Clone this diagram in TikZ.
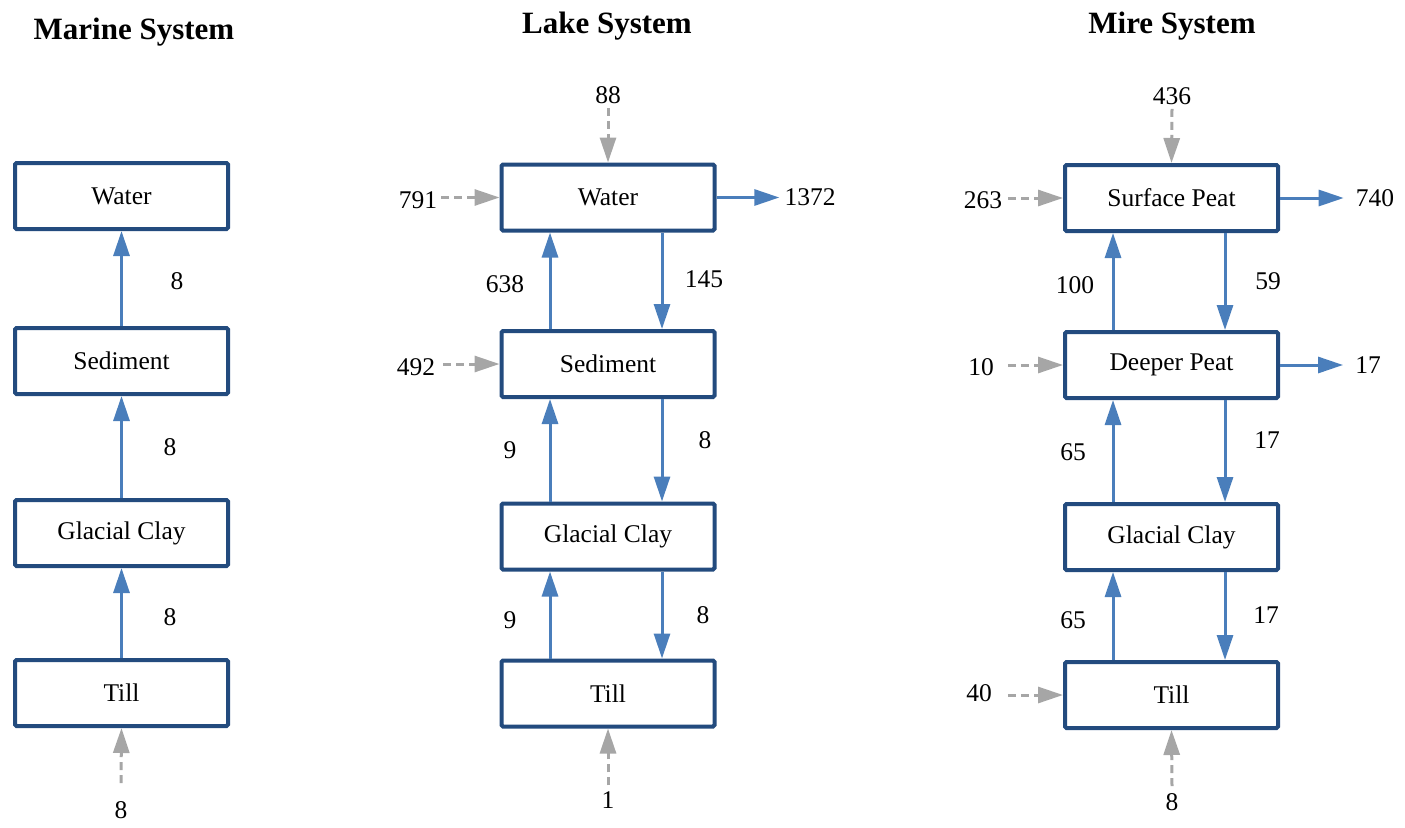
\documentclass[tikz,border=0pt]{standalone}
\usepackage{fontspec}
\setmainfont{Liberation Serif}
\usetikzlibrary{arrows.meta}
\definecolor{boxblue}{HTML}{234B7E}
\definecolor{flowblue}{HTML}{4A7EBB}
\definecolor{ingray}{HTML}{A6A6A6}
\tikzset{
  compbox/.style={draw=boxblue, line width=4pt, rounded corners=1.5pt, fill=white,
    minimum width=213pt, minimum height=66pt, inner sep=0pt,
    font=\fontsize{25.5}{30}\selectfont},
  lbl/.style={inner sep=4pt, font=\fontsize{25.5}{30}\selectfont},
  ttl/.style={inner sep=0pt, font=\fontsize{31}{36}\selectfont\bfseries},
  flow/.style={draw=flowblue, line width=3pt, -{Triangle[length=25pt,width=16pt]}},
  inflow/.style={draw=ingray, line width=3pt, dash pattern=on 8pt off 5pt,
    -{Triangle[length=25pt,width=16pt]}},
}
\begin{document}
\begin{tikzpicture}[x=1pt,y=-1pt]
\useasboundingbox (0,0) rectangle (1405,827);
% ---------------- Marine ----------------
\node[ttl] (mt) at (134,32) {Marine System};
\node[compbox] (mwat) at (121.5,196) {Water};
\node[compbox] (msed) at (121.5,361) {Sediment};
\node[compbox] (mgla) at (121.5,533) {Glacial Clay};
\node[compbox] (mtil) at (121.5,693) {Till};
\draw[flow] (msed.north) -- (mwat.south);
\draw[flow] (mgla.north) -- (msed.south);
\draw[flow] (mtil.north) -- (mgla.south);
\node[lbl] (m1) at (177,281) {8};
\node[lbl] (m2) at (170,447) {8};
\node[lbl] (m3) at (170,617) {8};
\node[lbl] (mb) at (121,810) {8};
\draw[inflow] ([yshift=14pt]mb.north) -- (mtil.south);
% ---------------- Lake ----------------
\node[ttl] (lt) at (607,26) {Lake System};
\node[compbox] (lwat) at (608,197.5) {Water};
\node[compbox] (lsed) at (608,364) {Sediment};
\node[compbox] (lgla) at (608,536.5) {Glacial Clay};
\node[compbox] (ltil) at (608,693.5) {Till};
\draw[flow] ([xshift=-58pt]lsed.north) -- ([xshift=-58pt]lwat.south);
\draw[flow] ([xshift=54pt]lwat.south) -- ([xshift=54pt]lsed.north);
\draw[flow] ([xshift=-58pt]lgla.north) -- ([xshift=-58pt]lsed.south);
\draw[flow] ([xshift=54pt]lsed.south) -- ([xshift=54pt]lgla.north);
\draw[flow] ([xshift=-58pt]ltil.north) -- ([xshift=-58pt]lgla.south);
\draw[flow] ([xshift=54pt]lgla.south) -- ([xshift=54pt]ltil.north);
\node[lbl] (l638) at (505,284) {638};
\node[lbl] (l145) at (704,279) {145};
\node[lbl] (l9a) at (510,450) {9};
\node[lbl] (l8a) at (705,440) {8};
\node[lbl] (l9b) at (510,620) {9};
\node[lbl] (l8b) at (703,615) {8};
\node[lbl] (l88) at (608,95) {88};
\draw[inflow] (l88.south) -- (lwat.north);
\node[lbl] (l791) at (418,200) {791};
\draw[inflow] (lwat.west -| l791.east) -- (lwat.west);
\node[lbl] (l492) at (416,367) {492};
\draw[inflow] ([xshift=4pt]lsed.west -| l492.east) -- (lsed.west);
\node[lbl] (l1372) at (810,197) {1372};
\draw[flow] (lwat.east) -- ([xshift=-1pt]lwat.east -| l1372.west);
\node[lbl] (l1) at (608,800) {1};
\draw[inflow] ([yshift=2pt]l1.north) -- (ltil.south);
% ---------------- Mire ----------------
\node[ttl] (rt) at (1172,26) {Mire System};
\node[compbox] (rsur) at (1171.5,198) {Surface Peat};
\node[compbox] (rdee) at (1171.5,365) {Deeper Peat};
\node[compbox] (rgla) at (1171.5,537) {Glacial Clay};
\node[compbox] (rtil) at (1171.5,695) {Till};
\draw[flow] ([xshift=-58.5pt]rdee.north) -- ([xshift=-58.5pt]rsur.south);
\draw[flow] ([xshift=53.5pt]rsur.south) -- ([xshift=53.5pt]rdee.north);
\draw[flow] ([xshift=-58.5pt]rgla.north) -- ([xshift=-58.5pt]rdee.south);
\draw[flow] ([xshift=53.5pt]rdee.south) -- ([xshift=53.5pt]rgla.north);
\draw[flow] ([xshift=-58.5pt]rtil.north) -- ([xshift=-58.5pt]rgla.south);
\draw[flow] ([xshift=53.5pt]rgla.south) -- ([xshift=53.5pt]rtil.north);
\node[lbl] (r100) at (1075,285) {100};
\node[lbl] (r59) at (1268,281) {59};
\node[lbl] (r65a) at (1073,452) {65};
\node[lbl] (r17a) at (1267,440) {17};
\node[lbl] (r65b) at (1073,620) {65};
\node[lbl] (r17b) at (1266,615) {17};
\node[lbl] (r436) at (1172,96) {436};
\draw[inflow] (r436.south) -- (rsur.north);
\node[lbl] (r263) at (983,200) {263};
\draw[inflow] ([xshift=2pt]rsur.west -| r263.east) -- (rsur.west);
\node[lbl] (r10) at (981,367) {10};
\draw[inflow] ([xshift=10pt]rdee.west -| r10.east) -- (rdee.west);
\node[lbl] (r40) at (979,693) {40};
\draw[inflow] ([xshift=12pt]rtil.west -| r40.east) -- (rtil.west);
\node[lbl] (r740) at (1375,198) {740};
\draw[flow] (rsur.east) -- ([xshift=-8pt]rsur.east -| r740.west);
\node[lbl] (r17o) at (1368,365) {17};
\draw[flow] (rdee.east) -- ([xshift=-8pt]rdee.east -| r17o.west);
\node[lbl] (r8) at (1172,802) {8};
\draw[inflow] ([yshift=3pt]r8.north) -- (rtil.south);
\end{tikzpicture}
\end{document}
